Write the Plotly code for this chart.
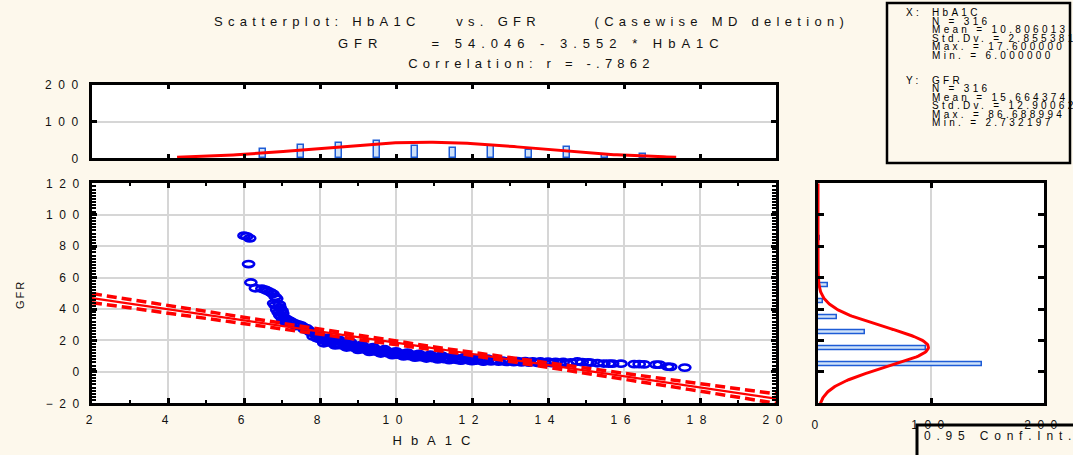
import json
import numpy as np
import plotly.graph_objects as go

# ---- observations (HbA1C, GFR) ----
hba1c = [
    6.00, 6.07, 6.15, 6.12, 6.18, 6.30, 6.47, 6.55, 6.62, 6.70, 6.76, 6.82, 6.86,
    6.78, 6.82, 6.93, 6.95, 6.86, 7.00, 6.90, 7.02, 6.94, 6.98, 7.06, 7.12, 7.02,
    7.18, 7.25, 7.10, 7.32, 7.42, 7.36, 7.50, 7.56, 7.64, 7.58, 7.70, 7.74,
    7.78, 7.82, 7.88, 7.92, 7.96, 8.00, 8.05, 8.10, 8.15, 8.20, 8.25, 8.30, 8.36,
    8.42, 8.48, 8.54, 8.60, 8.66, 8.72, 8.78, 8.84, 8.90, 8.96,
    9.02, 9.08, 9.14, 9.20, 9.27, 9.34, 9.40, 9.47, 9.54, 9.60, 9.67, 9.74, 9.80,
    9.87, 9.94, 10.00, 10.08, 10.15, 10.22, 10.30, 10.37, 10.44, 10.50,
    10.58, 10.65, 10.72, 10.80, 10.88, 10.95, 11.03, 11.10, 11.18, 11.25, 11.33,
    11.40, 11.50, 11.58, 11.66, 11.75, 11.83, 11.92, 12.00,
    12.10, 12.20, 12.30, 12.40, 12.50, 12.60, 12.70, 12.80, 12.90, 13.00, 13.10,
    13.20, 13.30, 13.40, 13.50, 13.60, 13.70, 13.80, 13.90, 14.00, 14.10, 14.20,
    14.30, 14.40, 14.50, 14.60,
    14.77, 14.90, 15.05, 15.12, 15.30, 15.47, 15.60, 15.70, 15.92, 16.27, 16.40,
    16.53, 16.84, 16.93, 17.15, 17.23, 17.60,
    8.20, 8.50, 8.80, 9.10, 9.40, 9.70, 10.00, 10.30, 10.60, 10.90, 11.20, 11.50,
    11.80, 12.10, 12.40,
    8.10, 8.40, 8.70, 9.00, 9.30, 9.60, 9.90, 10.20, 10.50, 10.80, 11.10, 11.40,
    11.70, 12.00, 12.30,
]
gfr = [
    86.7, 86.2, 85.0, 68.6, 56.9, 53.2, 52.9, 52.3, 51.5, 50.6, 49.6, 47.8, 46.6,
    43.6, 42.3, 42.8, 41.0, 39.6, 39.0, 37.8, 37.3, 36.0, 35.0, 34.5, 33.6, 33.2,
    32.8, 31.9, 31.6, 31.0, 30.2, 29.2, 29.6, 28.5, 27.9, 27.1, 26.6, 25.4,
    25.0, 22.5, 24.0, 21.5, 23.2, 20.8, 22.0, 19.8, 21.2, 19.0, 20.5, 18.6, 19.9,
    17.8, 19.2, 17.0, 18.6, 16.6, 17.9, 16.0, 17.2, 15.4, 16.6,
    14.8, 16.0, 14.4, 15.4, 13.8, 14.9, 13.2, 14.2, 12.6, 13.6, 12.2, 13.0, 11.8,
    12.5, 11.3, 12.0, 10.8, 11.6, 10.4, 11.2, 10.0, 10.8, 9.7,
    10.5, 9.4, 10.2, 9.1, 9.9, 8.8, 9.6, 8.5, 9.3, 8.2, 9.0,
    7.9, 8.7, 7.7, 8.4, 7.5, 8.2, 7.3, 8.0,
    7.1, 7.8, 6.9, 7.6, 6.7, 7.4, 6.5, 7.2, 6.3, 7.0, 6.2,
    6.9, 6.0, 6.8, 5.9, 6.7, 5.8, 6.6, 5.7, 6.5, 5.6, 6.4,
    5.5, 6.3, 5.4, 6.1,
    6.6, 6.2, 6.0, 5.9, 5.5, 5.3, 5.2, 5.2, 5.2, 4.9, 4.9,
    4.8, 4.6, 4.6, 3.3, 3.2, 2.73,
    21.6, 20.4, 18.9, 17.2, 15.8, 14.4, 13.1, 12.3, 11.5, 10.9, 10.3, 9.8,
    9.3, 8.8, 8.4,
    18.2, 16.8, 15.5, 14.0, 12.7, 11.7, 10.7, 9.8, 9.1, 8.5, 8.0, 7.5,
    7.1, 6.8, 6.5,
]

# ---- descriptive statistics ----
n_obs = 316
x_mean, x_sd, x_max, x_min = 10.806013, 2.855381, 17.6, 6.0
y_mean, y_sd, y_max, y_min = 15.664374, 12.90062, 86.688994, 2.732197
intercept, slope = 54.046, -3.552
r_value = -0.7862

# ---- frequency tables for the marginal histograms ----
hba1c_bins = [6.5, 7.5, 8.5, 9.5, 10.5, 11.5, 12.5, 13.5, 14.5, 15.5, 16.5]
hba1c_counts = [25, 35, 42, 47, 33, 28, 33, 23, 31, 8, 11]
gfr_bins = [5, 15, 25, 35, 45, 55, 65, 75, 85]
gfr_counts = [145, 96, 42, 17, 4, 9, 1, 0, 2]

# ---- axis ticks ----
hba1c_ticks = [2, 4, 6, 8, 10, 12, 14, 16, 18, 20]
gfr_ticks = [-20, 0, 20, 40, 60, 80, 100, 120]
count_ticks_top = [0, 100, 200]
count_ticks_side = [0, 100, 200]

# ---- text ----
title_lines = [
    "Scatterplot: HbA1C\u00a0\u00a0\u00a0\u00a0vs. GFR\u00a0\u00a0\u00a0\u00a0\u00a0\u00a0(Casewise MD deletion)",
    "GFR\u00a0\u00a0\u00a0\u00a0\u00a0= 54.046 - 3.552 * HbA1C",
    "Correlation: r = -.7862",
]
x_title, y_title = "HbA1C", "GFR"
conf_label = "0.95 Conf.Int."
stats_heads = ["X:", "Y:"]
stats_x = ["HbA1C", "N = 316", "Mean = 10.806013", "Std.Dv. = 2.855381",
           "Max. = 17.600000", "Min. = 6.000000"]
stats_y = ["GFR", "N = 316", "Mean = 15.664374", "Std.Dv. = 12.90062",
           "Max. = 86.688994", "Min. = 2.732197"]

# ---- geometry (pixels in a 1073 x 455 page) ----
W, H = 1073, 455
def fx(p):
    return p / W
def fy(p):
    return 1 - p / H

MAIN_X = (92, 776)
MAIN_Y = (183.3, 403.3)
TOP_Y = (85, 158.3)
SIDE_X = (818, 1044)
X_RANGE = [2, 20]
Y_RANGE = [-20, 120]

BG = "#FDF8EC"
GRID = "#D6D6D6"
BLUE = "#0000EE"
RED = "#FF0000"
BAR_FILL = "#CFE2F8"
BAR_EDGE = "#1E5CD6"
FONT = "Liberation Sans, Arial, sans-serif"
TXT = "#111111"

fig = go.Figure()

# regression line and confidence band for the mean
xl = np.linspace(X_RANGE[0], X_RANGE[1], 181)
fit = intercept + slope * xl
s_e = y_sd * np.sqrt((1 - r_value ** 2) * (n_obs - 1) / (n_obs - 2))
sxx = (n_obs - 1) * x_sd ** 2
t_crit = 1.9676
half = t_crit * s_e * np.sqrt(1 / n_obs + (xl - x_mean) ** 2 / sxx)

for yy, dash, lw in [(fit, "solid", 2.2), (fit + half, "10px,5px", 3.5), (fit - half, "10px,5px", 3.5)]:
    fig.add_trace(go.Scatter(x=xl, y=yy, mode="lines", xaxis="x", yaxis="y",
                             line=dict(color=RED, width=lw, dash=dash),
                             hoverinfo="skip", showlegend=False))

# HbA1C histogram with fitted normal curve
fig.add_trace(go.Bar(x=hba1c_bins, y=hba1c_counts, width=0.17, xaxis="x2", yaxis="y2",
                     marker=dict(color=BAR_FILL, line=dict(color=BAR_EDGE, width=1.5)),
                     showlegend=False))
xn = np.linspace(x_mean - 2.3 * x_sd, x_mean + 2.3 * x_sd, 161)
xpdf = n_obs * 1.0 * np.exp(-0.5 * ((xn - x_mean) / x_sd) ** 2) / (x_sd * np.sqrt(2 * np.pi))
fig.add_trace(go.Scatter(x=xn, y=xpdf, mode="lines", xaxis="x2", yaxis="y2",
                         line=dict(color=RED, width=3), showlegend=False))

# GFR histogram with fitted normal curve
fig.add_trace(go.Bar(y=gfr_bins, x=gfr_counts, orientation="h", width=2.5, xaxis="x3", yaxis="y3",
                     marker=dict(color=BAR_FILL, line=dict(color=BAR_EDGE, width=1.5)),
                     showlegend=False))
yn = np.linspace(Y_RANGE[0], Y_RANGE[1], 281)
ypdf = n_obs * 10.0 * np.exp(-0.5 * ((yn - y_mean) / y_sd) ** 2) / (y_sd * np.sqrt(2 * np.pi))
fig.add_trace(go.Scatter(x=ypdf, y=yn, mode="lines", xaxis="x3", yaxis="y3",
                         line=dict(color=RED, width=3), showlegend=False))

# points drawn as open ellipses in data coordinates
ux = (X_RANGE[1] - X_RANGE[0]) / (MAIN_X[1] - MAIN_X[0])
uy = (Y_RANGE[1] - Y_RANGE[0]) / (MAIN_Y[1] - MAIN_Y[0])
rx, ry = 5.6 * ux, 3.1 * uy
shapes = [dict(type="circle", xref="x", yref="y", layer="between",
               x0=a - rx, x1=a + rx, y0=b - ry, y1=b + ry,
               line=dict(color=BLUE, width=2.6))
          for a, b in zip(hba1c, gfr)]

# stats box and confidence-interval box
shapes.append(dict(type="rect", xref="paper", yref="paper",
                   x0=fx(887), x1=fx(1070), y0=fy(163), y1=fy(3),
                   line=dict(color="black", width=2.5)))
shapes.append(dict(type="rect", xref="paper", yref="paper",
                   x0=fx(917), x1=fx(1090), y0=fy(475), y1=fy(425),
                   line=dict(color="black", width=3)))

ann = []
for text, ypx in zip(title_lines, [21, 43, 64]):
    ann.append(dict(text=text, x=fx(531), y=fy(ypx), xref="paper", yref="paper",
                    xanchor="center", yanchor="middle", showarrow=False,
                    font=dict(family=FONT, size=13, color=TXT)))
ann.append(dict(text=x_title, x=fx(436), y=fy(440), xref="paper", yref="paper",
                xanchor="center", yanchor="middle", showarrow=False,
                font=dict(family=FONT, size=13, color=TXT)))
ann.append(dict(text=y_title, x=fx(20), y=fy(295), xref="paper", yref="paper", textangle=-90,
                xanchor="center", yanchor="middle", showarrow=False,
                font=dict(family=FONT, size=11, color=TXT)))
ann.append(dict(text=conf_label, x=fx(922), y=fy(436), xref="paper", yref="paper",
                xanchor="left", yanchor="middle", align="left", showarrow=False,
                font=dict(family=FONT, size=12, color=TXT)))

stat_rows = [12.5, 21, 29.5, 38, 46.5, 55]
for head, lines, y0 in [(stats_heads[0], stats_x, 0), (stats_heads[1], stats_y, 67.5)]:
    ann.append(dict(text=head, x=fx(905), y=fy(stat_rows[0] + y0), xref="paper", yref="paper",
                    xanchor="left", yanchor="middle", align="left", showarrow=False, borderpad=0,
                    font=dict(family=FONT, size=10, color="black")))
    for line, r in zip(lines, stat_rows):
        ann.append(dict(text=line, x=fx(931), y=fy(r + y0), xref="paper", yref="paper",
                        xanchor="left", yanchor="middle", align="left", showarrow=False, borderpad=0,
                        font=dict(family=FONT, size=10, color="black")))

# HbA1C tick labels placed on the main x axis
first_tick_ann = len(ann)
for v in hba1c_ticks:
    ann.append(dict(text=str(v), x=v, xref="x", y=fy(420), yref="paper",
                    xanchor="center", yanchor="middle", showarrow=False,
                    font=dict(family=FONT, size=12, color=TXT)))

tickfont = dict(family=FONT, size=12, color=TXT)
frame = dict(showline=True, linecolor="black", linewidth=3, mirror="allticks",
             ticks="inside", tickcolor="black", tickwidth=2.5, zeroline=False,
             tickfont=tickfont, gridcolor=GRID, gridwidth=1.5, tickmode="array")

fig.update_layout(
    width=W, height=H, margin=dict(l=0, r=0, t=0, b=0, pad=0, autoexpand=False), autosize=False,
    paper_bgcolor=BG, plot_bgcolor="white", showlegend=False, bargap=0,
    shapes=shapes, annotations=ann,
    xaxis=dict(domain=[fx(MAIN_X[0]), fx(MAIN_X[1])], anchor="y", range=X_RANGE,
               tickvals=hba1c_ticks, ticklen=5, showgrid=True, showticklabels=False,
               minor=dict(dtick=1, ticks="inside", ticklen=3, tickwidth=2, tickcolor="black", showgrid=False),
               **frame),
    yaxis=dict(domain=[fy(MAIN_Y[1]), fy(MAIN_Y[0])], anchor="x", range=Y_RANGE,
               tickvals=gfr_ticks, ticklen=5, showgrid=True, ticklabelstandoff=1,
               minor=dict(dtick=2, ticks="inside", ticklen=4, tickwidth=2, tickcolor="black", showgrid=False),
               **frame),
    xaxis2=dict(domain=[fx(MAIN_X[0]), fx(MAIN_X[1])], anchor="y2", range=X_RANGE,
                tickvals=hba1c_ticks, ticklen=4, showgrid=False, showticklabels=False, **frame),
    yaxis2=dict(domain=[fy(TOP_Y[1]), fy(TOP_Y[0])], anchor="x2", range=[0, 200],
                tickvals=count_ticks_top, ticklen=5, showgrid=True, ticklabelstandoff=2, **frame),
    xaxis3=dict(domain=[fx(SIDE_X[0]), fx(SIDE_X[1])], anchor="y3", range=[0, 200],
                tickvals=count_ticks_side, ticklen=5, showgrid=True, ticklabelstandoff=8, **frame),
    yaxis3=dict(domain=[fy(MAIN_Y[1]), fy(MAIN_Y[0])], anchor="x3", range=Y_RANGE,
                tickvals=gfr_ticks, ticklen=6, showgrid=False, showticklabels=False, **frame),
)

# page reset and per-element letter spacing
spacing = {0: 5.3, 1: 6.0, 2: 5.2, 3: 9, 4: 2, 5: 5.8}
for i in range(first_tick_ann, len(ann)):
    spacing[i] = 6.5
css = ["html,body{margin:0;padding:0;background:#FDF8EC}",
       ".main-svg g[class*='tick'] > text{letter-spacing:6.5px}",
       ".annotation text{letter-spacing:3.3px}"]
for i, s in spacing.items():
    css.append(".annotation[data-index='%d'] text{letter-spacing:%spx}" % (i, s))
post = ("var st=document.createElement('style');st.textContent=%s;document.head.appendChild(st);"
        % json.dumps("\n".join(css)))

fig.write_html("out.html", post_script=post)
